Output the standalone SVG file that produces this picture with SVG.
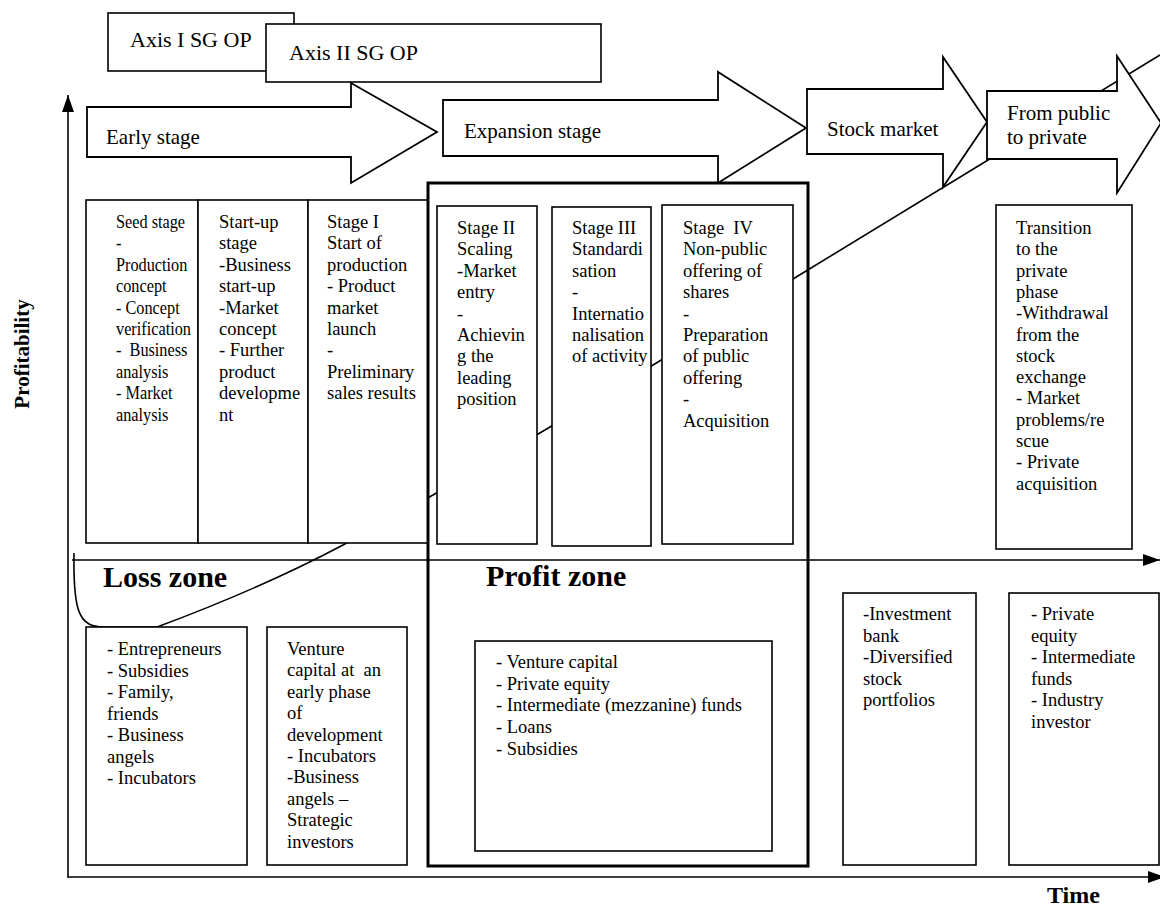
<svg xmlns="http://www.w3.org/2000/svg" width="1160" height="907" viewBox="0 0 1160 907">
  <style>
    text { font-family: "Liberation Serif", "Times New Roman", serif; fill: #000; }
    .t { font-size: 18.5px; }
    .h { font-size: 21px; }
    .ax { font-size: 22px; }
    .zone { font-size: 30px; font-weight: bold; }
    .lab { font-weight: bold; }
    .box { fill: #fff; stroke: #000; stroke-width: 1.6; }
    .frame { fill: none; stroke: #000; stroke-width: 3; }
    .blk { fill: #fff; stroke: #000; stroke-width: 1.8; stroke-linejoin: miter; }
    .axis { fill: none; stroke: #000; stroke-width: 1.6; }
    .curve { fill: none; stroke: #000; stroke-width: 1.6; }
  </style>
  <defs>
    <marker id="ah" viewBox="0 0 17 12" refX="17" refY="6" markerWidth="17" markerHeight="12" markerUnits="userSpaceOnUse" orient="auto">
      <path d="M0,0 L17,6 L0,12 z" fill="#000"/>
    </marker>
  </defs>

  <rect width="1160" height="907" fill="#fff"/>

  <!-- profitability curve, drawn first so the boxes cover it -->
  <g id="connectors">
    <path class="curve" d="M74,553 C73,612 79,627 104,627 L157,627 Q262,588 343,545 L433,495 L545,430 L658,362 L793,279 L1165,52"/>
  </g>

  <!-- axes -->
  <g id="axes">
    <line class="axis" x1="68" y1="878" x2="68" y2="95" marker-end="url(#ah)"/>
    <line class="axis" x1="68" y1="877" x2="1165" y2="877" marker-end="url(#ah)"/>
    <line class="axis" x1="72" y1="560" x2="1160" y2="560" marker-end="url(#ah)"/>
    <text class="lab" font-size="21" transform="translate(29 354) rotate(-90)" text-anchor="middle">Profitability</text>
    <text class="lab" font-size="24" x="1047" y="903">Time</text>
  </g>

  <!-- operational programme axes -->
  <g id="axis-1">
    <rect class="box" x="108" y="13" width="186" height="58"/>
    <text class="ax" x="130" y="47">Axis I SG OP</text>
  </g>
  <g id="axis-2">
    <rect class="box" x="266" y="24" width="335" height="58"/>
    <text class="ax" x="289" y="60">Axis II SG OP</text>
  </g>

  <!-- stage arrows -->
  <g id="early-stage">
    <polygon class="blk" points="87,107 351,107 351,83 437,132 351,183 351,157 87,157"/>
    <text class="h" x="106" y="144">Early stage</text>
  </g>
  <g id="expansion-stage">
    <polygon class="blk" points="443,100 718,100 718,72 806,128 718,183 718,156 443,156"/>
    <text class="h" x="464" y="138">Expansion stage</text>
  </g>
  <g id="stock-market">
    <polygon class="blk" points="807,89 943,89 943,57 987,122 943,187 943,154 807,154"/>
    <text class="h" x="827" y="136">Stock market</text>
  </g>
  <g id="public-to-private">
    <polygon class="blk" points="987,91 1117,91 1117,56 1161,123 1117,193 1117,159 987,159"/>
    <text class="h" x="1007" y="120">From public</text>
    <text class="h" x="1007" y="144">to private</text>
  </g>

  <!-- early stage columns -->
  <g id="seed-stage">
    <rect class="box" x="86" y="200" width="112" height="343"/>
    <g transform="translate(116 0) scale(0.88 1)">
      <text class="t" x="0" y="228" xml:space="preserve"><tspan x="0">Seed stage</tspan><tspan x="0" dy="21.4">-</tspan><tspan x="0" dy="21.4">Production</tspan><tspan x="0" dy="21.4">concept</tspan><tspan x="0" dy="21.4">- Concept</tspan><tspan x="0" dy="21.4">verification</tspan><tspan x="0" dy="21.4">-  Business</tspan><tspan x="0" dy="21.4">analysis</tspan><tspan x="0" dy="21.4">- Market</tspan><tspan x="0" dy="21.4">analysis</tspan></text>
    </g>
  </g>
  <g id="start-up-stage">
    <rect class="box" x="198" y="200" width="110" height="343"/>
    <text class="t" x="219" y="228"><tspan x="219">Start-up</tspan><tspan x="219" dy="21.4">stage</tspan><tspan x="219" dy="21.4">-Business</tspan><tspan x="219" dy="21.4">start-up</tspan><tspan x="219" dy="21.4">-Market</tspan><tspan x="219" dy="21.4">concept</tspan><tspan x="219" dy="21.4">- Further</tspan><tspan x="219" dy="21.4">product</tspan><tspan x="219" dy="21.4">developme</tspan><tspan x="219" dy="21.4">nt</tspan></text>
  </g>
  <g id="stage-1">
    <rect class="box" x="308" y="200" width="120" height="343"/>
    <text class="t" x="327" y="228"><tspan x="327">Stage I</tspan><tspan x="327" dy="21.4">Start of</tspan><tspan x="327" dy="21.4">production</tspan><tspan x="327" dy="21.4">- Product</tspan><tspan x="327" dy="21.4">market</tspan><tspan x="327" dy="21.4">launch</tspan><tspan x="327" dy="21.4">-</tspan><tspan x="327" dy="21.4">Preliminary</tspan><tspan x="327" dy="21.4">sales results</tspan></text>
  </g>

  <!-- expansion stage columns -->
  <g id="stage-2">
    <rect class="box" x="437" y="206" width="100" height="338"/>
    <text class="t" x="457" y="234"><tspan x="457">Stage II</tspan><tspan x="457" dy="21.4">Scaling</tspan><tspan x="457" dy="21.4">-Market</tspan><tspan x="457" dy="21.4">entry</tspan><tspan x="457" dy="21.4">-</tspan><tspan x="457" dy="21.4">Achievin</tspan><tspan x="457" dy="21.4">g the</tspan><tspan x="457" dy="21.4">leading</tspan><tspan x="457" dy="21.4">position</tspan></text>
  </g>
  <g id="stage-3">
    <rect class="box" x="552" y="207" width="99" height="339"/>
    <text class="t" x="572" y="234"><tspan x="572">Stage III</tspan><tspan x="572" dy="21.4">Standardi</tspan><tspan x="572" dy="21.4">sation</tspan><tspan x="572" dy="21.4">-</tspan><tspan x="572" dy="21.4">Internatio</tspan><tspan x="572" dy="21.4">nalisation</tspan><tspan x="572" dy="21.4">of activity</tspan></text>
  </g>
  <g id="stage-4">
    <rect class="box" x="662" y="205" width="131" height="339"/>
    <text class="t" x="683" y="234" xml:space="preserve"><tspan x="683">Stage  IV</tspan><tspan x="683" dy="21.4">Non-public</tspan><tspan x="683" dy="21.4">offering of</tspan><tspan x="683" dy="21.4">shares</tspan><tspan x="683" dy="21.4">-</tspan><tspan x="683" dy="21.4">Preparation</tspan><tspan x="683" dy="21.4">of public</tspan><tspan x="683" dy="21.4">offering</tspan><tspan x="683" dy="21.4">-</tspan><tspan x="683" dy="21.4">Acquisition</tspan></text>
  </g>

  <!-- profit zone frame -->
  <g id="profit-zone">
    <rect class="frame" x="428" y="183" width="380" height="683"/>
    <text class="zone" x="486" y="586">Profit zone</text>
  </g>
  <g id="loss-zone">
    <text class="zone" x="103" y="587">Loss zone</text>
  </g>

  <!-- public to private column -->
  <g id="transition">
    <rect class="box" x="996" y="205" width="136" height="344"/>
    <text class="t" x="1016" y="234"><tspan x="1016">Transition</tspan><tspan x="1016" dy="21.3">to the</tspan><tspan x="1016" dy="21.3">private</tspan><tspan x="1016" dy="21.3">phase</tspan><tspan x="1016" dy="21.3">-Withdrawal</tspan><tspan x="1016" dy="21.3">from the</tspan><tspan x="1016" dy="21.3">stock</tspan><tspan x="1016" dy="21.3">exchange</tspan><tspan x="1016" dy="21.3">- Market</tspan><tspan x="1016" dy="21.3">problems/re</tspan><tspan x="1016" dy="21.3">scue</tspan><tspan x="1016" dy="21.3">- Private</tspan><tspan x="1016" dy="21.3">acquisition</tspan></text>
  </g>

  <!-- financing sources -->
  <g id="funding-early">
    <rect class="box" x="86" y="627" width="161" height="238"/>
    <text class="t" x="107" y="655"><tspan x="107">- Entrepreneurs</tspan><tspan x="107" dy="21.5">- Subsidies</tspan><tspan x="107" dy="21.5">- Family,</tspan><tspan x="107" dy="21.5">friends</tspan><tspan x="107" dy="21.5">- Business</tspan><tspan x="107" dy="21.5">angels</tspan><tspan x="107" dy="21.5">- Incubators</tspan></text>
  </g>
  <g id="funding-venture">
    <rect class="box" x="267" y="627" width="140" height="238"/>
    <text class="t" x="287" y="655" xml:space="preserve"><tspan x="287">Venture</tspan><tspan x="287" dy="21.4">capital at  an</tspan><tspan x="287" dy="21.4">early phase</tspan><tspan x="287" dy="21.4">of</tspan><tspan x="287" dy="21.4">development</tspan><tspan x="287" dy="21.4">- Incubators</tspan><tspan x="287" dy="21.4">-Business</tspan><tspan x="287" dy="21.4">angels –</tspan><tspan x="287" dy="21.4">Strategic</tspan><tspan x="287" dy="21.4">investors</tspan></text>
  </g>
  <g id="funding-expansion">
    <rect class="box" x="475" y="641" width="297" height="210"/>
    <text class="t" x="496" y="668"><tspan x="496">- Venture capital</tspan><tspan x="496" dy="21.7">- Private equity</tspan><tspan x="496" dy="21.7">- Intermediate (mezzanine) funds</tspan><tspan x="496" dy="21.7">- Loans</tspan><tspan x="496" dy="21.7">- Subsidies</tspan></text>
  </g>
  <g id="funding-stock-market">
    <rect class="box" x="843" y="593" width="133" height="272"/>
    <text class="t" x="863" y="620"><tspan x="863">-Investment</tspan><tspan x="863" dy="21.5">bank</tspan><tspan x="863" dy="21.5">-Diversified</tspan><tspan x="863" dy="21.5">stock</tspan><tspan x="863" dy="21.5">portfolios</tspan></text>
  </g>
  <g id="funding-private">
    <rect class="box" x="1009" y="593" width="150" height="272"/>
    <text class="t" x="1031" y="620"><tspan x="1031">- Private</tspan><tspan x="1031" dy="21.5">equity</tspan><tspan x="1031" dy="21.5">- Intermediate</tspan><tspan x="1031" dy="21.5">funds</tspan><tspan x="1031" dy="21.5">- Industry</tspan><tspan x="1031" dy="21.5">investor</tspan></text>
  </g>
</svg>
